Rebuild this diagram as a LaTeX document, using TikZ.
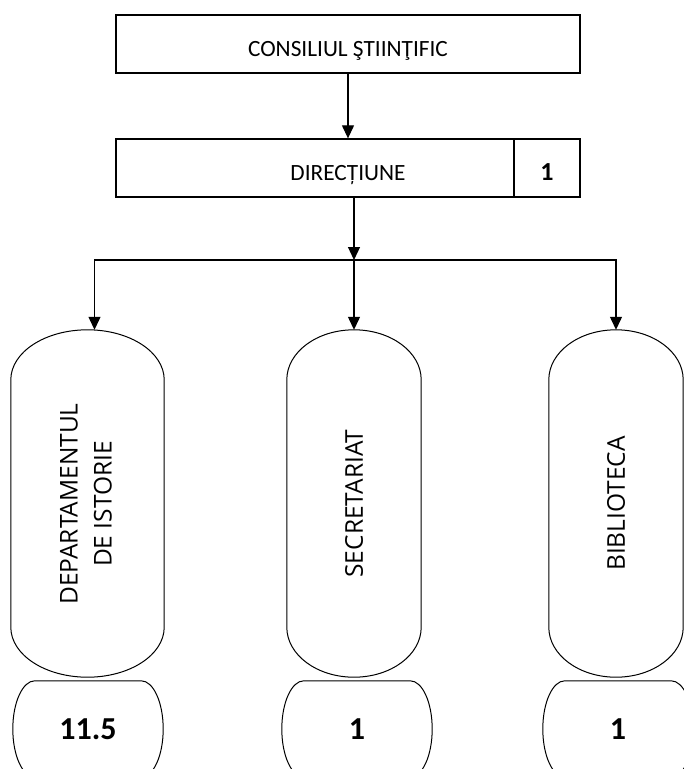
\documentclass[tikz,border=0pt]{standalone}
\usepackage{fontspec}
\setmainfont{Carlito}
\newfontfamily\pillfont{Open Sans}
\usetikzlibrary{arrows.meta, calc}

\tikzset{
  box/.style={draw, line width=1.3pt, minimum width=464pt, minimum height=58pt, inner sep=0pt,
    text height=24pt, text depth=0pt, font=\fontsize{23.3}{27}\selectfont},
  numbox/.style={draw, line width=1.3pt, minimum width=66pt, minimum height=58pt, inner sep=0pt,
    text height=24pt, text depth=0pt, font=\bfseries\fontsize{26}{30}\selectfont},
  tall/.style={minimum height=347pt, inner sep=0pt},
  vlabel/.style={rotate=90, align=center, inner sep=0pt, font=\pillfont\fontsize{24.5}{34}\selectfont},
  small/.style={minimum width=150pt, minimum height=96pt, inner sep=0pt,
    text height=20pt, text depth=0pt, font=\bfseries\fontsize{32}{36}\selectfont},
  arr/.style={line width=1.2pt, -{Triangle[length=13pt, width=12pt]}},
  pillline/.style={line width=1pt}
}

% outline of a tall pill: elliptic caps top and bottom
\newcommand{\pillshape}[2]{%
  \draw[pillline] let \p1=(#1.north west), \p2=(#1.south east), \n1={(\x2-\x1)/2} in
    ([yshift=-#2]#1.north west) arc[start angle=180, end angle=0, x radius=\n1, y radius=#2]
    -- ([yshift=#2]#1.south east) arc[start angle=0, end angle=-180, x radius=\n1, y radius=#2] -- cycle;
}
% outline of a small tag: flat top and bottom, bulging sides
\newcommand{\tagshape}[2]{%
  \draw[pillline] let \p1=(#1.north west), \p2=(#1.south east), \n1={(\y1-\y2)/2} in
    ([xshift=#2]#1.north west) -- ([xshift=-#2]#1.north east)
    arc[start angle=90, end angle=-90, x radius=#2, y radius=\n1]
    -- ([xshift=#2]#1.south west)
    arc[start angle=270, end angle=90, x radius=#2, y radius=\n1] -- cycle;
}

\begin{document}
\begin{tikzpicture}[x=1pt, y=1pt]
  \useasboundingbox (0,0) rectangle (684,-769);
  \clip (0,0) rectangle (684,-769);

  % top of the chart
  \node[box] (cons) at (348,-44) {CONSILIUL ŞTIINŢIFIC};
  \node[box] (dir) at (348,-168) {DIRECȚIUNE};
  \node[numbox] (dirnum) at (547,-168) {1};

  % the three units
  \node[tall, minimum width=153pt] (dep) at (87.5,-503.5) {};
  \node[tall, minimum width=134pt] (sec) at (354,-503.5) {};
  \node[tall, minimum width=134pt] (bib) at (616,-503.5) {};
  \node[vlabel] (deptxt) at (86,-504) {DEPARTAMENTUL\\DE ISTORIE};
  \node[vlabel] (sectxt) at (sec) {SECRETARIAT};
  \node[vlabel] (bibtxt) at (bib) {BIBLIOTECA};
  \pillshape{dep}{50pt}
  \pillshape{sec}{50pt}
  \pillshape{bib}{50pt}

  % staff numbers
  \node[small] (depnr) at (88,-729) {11.5};
  \node[small] (secnr) at (357,-729) {1};
  \node[small] (bibnr) at (618,-729) {1};
  \tagshape{depnr}{22pt}
  \tagshape{secnr}{22pt}
  \tagshape{bibnr}{22pt}

  \coordinate (split) at (354,-260);
  \draw[arr] (cons.south) -- (dir.north);
  \draw[arr] (dir.south -| split) -- (split);
  \draw[arr] (split) -- (sec.north);
  \draw[arr] (split) -| ([xshift=7pt]dep.north);
  \draw[arr] (split) -| (bib.north);
\end{tikzpicture}
\end{document}
